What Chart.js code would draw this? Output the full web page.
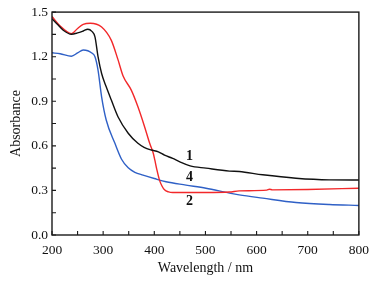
<!DOCTYPE html>
<html lang="en">
<head>
  <meta charset="UTF-8" />
  <title>Absorbance spectra</title>
  <script src="https://cdn.jsdelivr.net/npm/chart.js"></script>
  <style>
    body {
      background-color: white;
      margin: 0;
      padding: 0;
    }

    #wrap {
      width: 376px;
      height: 284px;
    }
  </style>
</head>
<body>

  <div id="wrap">
    <canvas id="uvChart" width="376" height="284"></canvas>
  </div>

  <script>
    // curve 1 (black)
    const wl1 = [200, 210, 222, 238, 250, 261, 270, 278, 284, 290, 297, 306, 316, 329, 349, 368, 380, 394, 408, 420, 436, 449, 470, 501, 547, 566, 612, 677, 742, 800];
    const abs1 = [1.456, 1.42, 1.378, 1.351, 1.36, 1.373, 1.385, 1.37, 1.333, 1.2, 1.087, 0.997, 0.908, 0.796, 0.685, 0.617, 0.59, 0.572, 0.56, 0.538, 0.515, 0.494, 0.465, 0.45, 0.43, 0.427, 0.405, 0.382, 0.371, 0.37];

    // curve 2 (red)
    const wl2 = [200, 215, 238, 250, 261, 275, 297, 316, 329, 339, 355, 368, 381, 391, 398, 401, 405, 410, 415, 420, 428, 436, 501, 547, 566, 620, 625, 631, 700, 800];
    const abs2 = [1.47, 1.41, 1.355, 1.39, 1.418, 1.425, 1.40, 1.31, 1.18, 1.07, 0.975, 0.863, 0.729, 0.617, 0.55, 0.505, 0.44, 0.371, 0.33, 0.304, 0.29, 0.286, 0.286, 0.289, 0.297, 0.302, 0.308, 0.304, 0.306, 0.315];

    // curve 4 (blue)
    const wl4 = [200, 216, 238, 250, 261, 270, 277, 284, 290, 297, 306, 323, 336, 349, 362, 378, 400, 423, 462, 501, 547, 566, 612, 677, 742, 800];
    const abs4 = [1.226, 1.22, 1.203, 1.225, 1.245, 1.24, 1.226, 1.2, 1.11, 0.93, 0.774, 0.617, 0.51, 0.452, 0.422, 0.403, 0.38, 0.358, 0.336, 0.315, 0.282, 0.27, 0.248, 0.219, 0.205, 0.199];

    // curve tags written on the plot
    const tagText = ['1', '4', '2'];
    const tagWl = [469, 469, 469];
    const tagAbs = [0.526, 0.39, 0.223];

    const xTicks = [200, 300, 400, 500, 600, 700, 800];
    const yTicks = [0.0, 0.3, 0.6, 0.9, 1.2, 1.5];

    const serif = '"Liberation Serif", "DejaVu Serif", serif';

    function pts(xs, ys) {
      return xs.map((x, i) => ({ x: x, y: ys[i] }));
    }

    // frame, inward ticks and curve tags
    const framePlugin = {
      id: 'frame',
      afterDraw(chart) {
        const c = chart.ctx;
        const a = chart.chartArea;
        const sx = chart.scales.x;
        const sy = chart.scales.y;
        c.save();
        c.strokeStyle = '#1a1a1a';
        c.lineWidth = 1.4;
        c.strokeRect(a.left, a.top, a.right - a.left, a.bottom - a.top);
        c.lineWidth = 1.1;
        c.beginPath();
        for (let v = 200; v <= 800; v += 50) {
          const px = sx.getPixelForValue(v);
          c.moveTo(px, a.bottom);
          c.lineTo(px, a.bottom - 4);
        }
        for (let k = 0; k <= 10; k++) {
          const py = sy.getPixelForValue(k * 0.15);
          c.moveTo(a.left, py);
          c.lineTo(a.left + 4, py);
        }
        c.stroke();

        c.fillStyle = '#111';
        c.font = 'bold 14px ' + serif;
        c.textAlign = 'center';
        c.textBaseline = 'middle';
        tagText.forEach((t, i) => {
          c.fillText(t, sx.getPixelForValue(tagWl[i]), sy.getPixelForValue(tagAbs[i]));
        });
        c.restore();
      }
    };

    const ctx = document.getElementById('uvChart').getContext('2d');
    const chart = new Chart(ctx, {
      type: 'line',
      data: {
        datasets: [
          { label: '1', data: pts(wl1, abs1), borderColor: '#111111' },
          { label: '2', data: pts(wl2, abs2), borderColor: '#f2282a' },
          { label: '4', data: pts(wl4, abs4), borderColor: '#2f60c6' }
        ]
      },
      options: {
        responsive: false,
        animation: false,
        devicePixelRatio: 1,
        datasets: {
          line: {
            borderWidth: 1.4,
            pointRadius: 0,
            fill: false,
            cubicInterpolationMode: 'monotone'
          }
        },
        layout: { padding: { top: 11, right: 16, left: 0, bottom: 0 } },
        plugins: {
          legend: { display: false },
          tooltip: { enabled: false }
        },
        scales: {
          x: {
            type: 'linear',
            min: 200,
            max: 800,
            afterBuildTicks: s => { s.ticks = xTicks.map(v => ({ value: v })); },
            afterFit: s => { s.height = 49; },
            grid: { display: false, drawTicks: false },
            border: { display: false },
            ticks: {
              color: '#111',
              padding: 7,
              maxRotation: 0,
              font: { family: serif, size: 13.5 }
            },
            title: {
              display: true,
              text: 'Wavelength / nm',
              color: '#111',
              padding: { top: 0, bottom: 7 },
              font: { family: serif, size: 14 }
            }
          },
          y: {
            type: 'linear',
            min: 0,
            max: 1.5,
            afterBuildTicks: s => { s.ticks = yTicks.map(v => ({ value: v })); },
            afterFit: s => { s.width = 52; },
            grid: { display: false, drawTicks: false },
            border: { display: false },
            ticks: {
              color: '#111',
              padding: 4,
              font: { family: serif, size: 13.5 },
              callback: v => v.toFixed(1)
            },
            title: {
              display: true,
              text: 'Absorbance',
              color: '#111',
              padding: { top: 8, bottom: 0 },
              font: { family: serif, size: 14 }
            }
          }
        }
      },
      plugins: [framePlugin]
    });
  </script>
</body>
</html>
